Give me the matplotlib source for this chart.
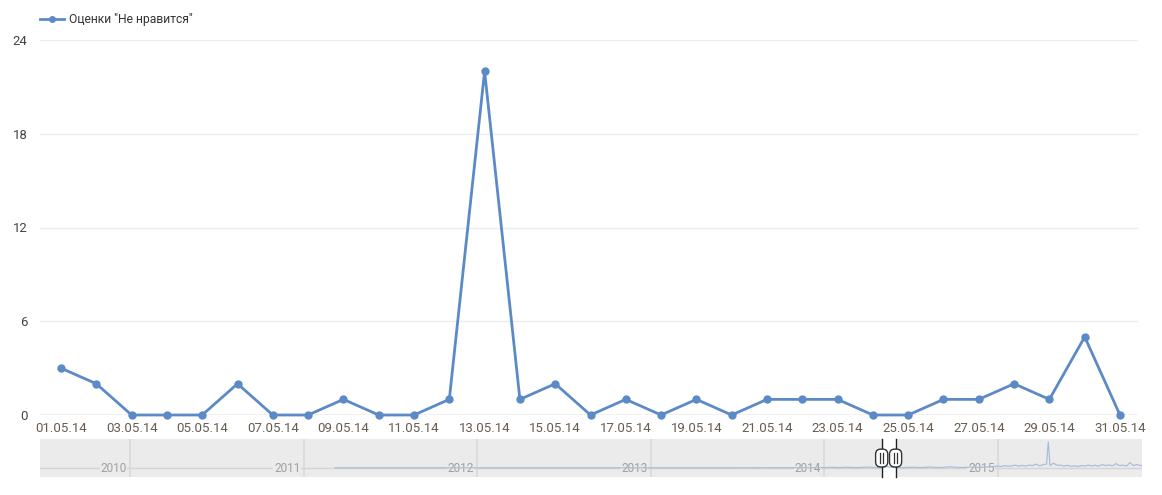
import numpy as np
import matplotlib
matplotlib.use("Agg")
from matplotlib import pyplot as plt
from matplotlib.patches import FancyBboxPatch

plt.rcParams['font.family'] = ['Roboto', 'DejaVu Sans']

# daily values, May 2014
days = list(range(1, 32))
values = [3, 2, 0, 0, 0, 2, 0, 0, 1, 0, 0, 1, 22, 1, 2, 0,
          1, 0, 1, 0, 1, 1, 1, 0, 0, 1, 1, 2, 1, 5, 0]
tick_days = list(range(1, 32, 2))
tick_labels = ["%02d.05.14" % d for d in tick_days]
y_ticks = [0, 6, 12, 18, 24]
series_name = 'Оценки "Не нравится"'

# navigator overview (decimal years)
nav_x = [2011.18, 2011.6, 2012.0, 2012.5, 2013.0, 2013.5, 2013.9,
         2014.0, 2014.04, 2014.08, 2014.12, 2014.16, 2014.2, 2014.24,
         2014.28, 2014.32, 2014.36, 2014.4, 2014.44, 2014.48, 2014.52,
         2014.56, 2014.6, 2014.64, 2014.68, 2014.72, 2014.76, 2014.8,
         2014.84, 2014.88, 2014.92, 2014.96,
         2015.0, 2015.02, 2015.04, 2015.06, 2015.08, 2015.1, 2015.12,
         2015.14, 2015.16, 2015.18, 2015.2, 2015.22, 2015.24, 2015.26,
         2015.28, 2015.29, 2015.3, 2015.32, 2015.34, 2015.36, 2015.38,
         2015.4, 2015.42, 2015.44, 2015.46, 2015.48, 2015.5, 2015.52,
         2015.54, 2015.56, 2015.58, 2015.6, 2015.62, 2015.64, 2015.66,
         2015.68, 2015.7, 2015.72, 2015.74, 2015.76, 2015.78, 2015.8,
         2015.83]
nav_y = [0.2, 0.2, 0.2, 0.2, 0.2, 0.2, 0.3,
         0.4, 0.7, 0.4, 0.8, 0.5, 0.4, 0.9,
         0.6, 0.4, 1.2, 0.5, 0.4, 0.6, 0.8,
         0.4, 1.0, 0.6, 0.5, 1.3, 0.6, 0.5,
         0.9, 0.6, 1.0, 1.2,
         2.0, 1.5, 2.5, 1.8, 2.2, 3.0, 1.8,
         2.8, 2.0, 3.0, 2.5, 4.0, 2.2, 3.5,
         4.0, 27.0, 2.5, 5.0, 2.8, 3.0, 2.0,
         2.8, 1.8, 2.2, 1.5, 2.5, 2.0, 3.0,
         2.2, 2.8, 2.0, 3.5, 2.5, 3.2, 2.2,
         4.5, 2.5, 3.0, 2.0, 5.5, 2.5, 3.5,
         2.2]
year_lines = [2010, 2011, 2012, 2013, 2014, 2015]
sel_start, sel_end = 2014.33, 2014.41

line_color = '#5b8ac6'
text_color = '#675c52'

fig = plt.figure(figsize=(11.62, 4.95), dpi=100)

# main chart
ax = fig.add_axes([40 / 1162, 80 / 495, 1098 / 1162, 375 / 495])
ax.plot(days, values, color=line_color, lw=2, marker='o', ms=5,
        label=series_name, zorder=3, clip_on=False)
ax.set_xlim(0.405, 31.51)
ax.set_ylim(0, 24)
ax.set_yticks(y_ticks)
ax.set_xticks(tick_days)
ax.set_xticklabels(tick_labels)
ax.grid(axis='y', color='#ececec', lw=1)
ax.axhline(0, color='#cccccc', lw=1, zorder=2)
for s in ax.spines.values():
    s.set_visible(False)
ax.tick_params(length=0, labelsize=9.5, colors=text_color)
ax.tick_params(axis='y', pad=9, colors='#444444')
ax.tick_params(axis='x', pad=5)
leg = ax.legend(loc='lower left', bbox_to_anchor=(0.0, 1.037), frameon=False,
                fontsize=8.7, handlelength=2.0, handletextpad=0.4,
                borderaxespad=0, borderpad=0)
for t in leg.get_texts():
    t.set_color('#333333')
for h in leg.legend_handles:
    h.set_markersize(4)

# navigator
nav = fig.add_axes([40 / 1162, 18 / 495, 1102 / 1162, 38 / 495])
nav.set_facecolor('#ebebeb')
nav.set_xlim(2009.48, 2015.83)
nav.set_ylim(-9.3, 30)
nav.axhline(0, color='#d4d4d4', lw=1, zorder=1)
for yr in year_lines:
    nav.axvline(yr, color='#d9d9d9', lw=1.2, zorder=1)
    nav.text(yr - 0.02, 0, str(yr), ha='right',
             va='center', fontsize=8.5, color='#a0a0a0', zorder=2,
             bbox=dict(facecolor='#ebebeb', edgecolor='none', pad=0.5))
nav.plot(nav_x, nav_y, color='#a9bedb', lw=0.9, zorder=3)
nav.axvspan(sel_start, sel_end, color='white', zorder=2)
for xv in (sel_start, sel_end):
    nav.plot([xv, xv], [-9.3, 30], color='#222222', lw=1, zorder=4, clip_on=False)
    w, hgt = 0.07, 18.5
    nav.add_patch(FancyBboxPatch((xv - w / 2, 10.3 - hgt / 2), w, hgt,
                                 boxstyle='round,pad=0,rounding_size=0.03',
                                 facecolor='white', edgecolor='#333333',
                                 lw=1, zorder=5, mutation_aspect=180))
    nav.plot([xv - 0.007, xv - 0.007], [5, 15.5], color='#333333', lw=0.9, zorder=6)
    nav.plot([xv + 0.007, xv + 0.007], [5, 15.5], color='#333333', lw=0.9, zorder=6)
nav.set_xticks([])
nav.set_yticks([])
for s in nav.spines.values():
    s.set_visible(False)

fig.savefig('out.png', dpi=100)
